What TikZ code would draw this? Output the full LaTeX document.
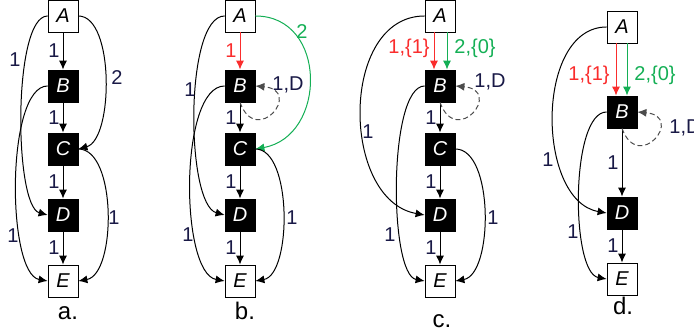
\documentclass[tikz,border=0pt]{standalone}
\usepackage{fontspec}
\setmainfont{Liberation Sans}
\usepackage{tikz}
\usepackage{xcolor}
\usetikzlibrary{
    arrows.meta,
    calc,
    positioning
}
\definecolor{lblcol}{RGB}{25,25,70}
\definecolor{redarc}{RGB}{250,45,45}
\definecolor{greenarc}{RGB}{20,175,85}
\tikzset{
    wbox/.style={draw, fill=white, minimum width=15pt, minimum height=16pt, inner sep=0pt, font=\fontsize{10}{12}\selectfont\itshape},
    bbox/.style={wbox, fill=black, text=white},
    lbl/.style={text=lblcol, font=\fontsize{10}{12}\selectfont, inner sep=1.5pt},
    panelname/.style={font=\fontsize{12}{14}\selectfont},
    arc/.style={-{Latex[length=4.5pt,width=4pt]}, line width=0.5pt},
    selfarc/.style={arc, dashed, dash pattern=on 2.5pt off 1.5pt, black!70, out=-70, in=-5, looseness=5.5}
}

\begin{document}
\begin{tikzpicture}[x=0.5pt, y=0.5pt]
                    \useasboundingbox (0, 0) rectangle (694, 330);

                    % a.
                    \node[wbox] (A1) at (63, 314) {A};
                    \node[bbox] (B1) at (63, 244) {B};
                    \node[bbox] (C1) at (63, 181) {C};
                    \node[bbox] (D1) at (63, 115) {D};
                    \node[wbox] (E1) at (63, 49) {E};
                    \node[panelname] (pa) at (68, 17) {a.};
                    \draw
                    (A1) edge[arc] node[lbl, left]{1} (B1)
                    (B1) edge[arc] node[lbl, left]{1} (C1)
                    (C1) edge[arc] node[lbl, left]{1} (D1)
                    (D1) edge[arc] node[lbl, left]{1} (E1)
                    (A1.west) edge[arc, out=180, in=165, looseness=0.45] (D1.west)
                    (B1.west) edge[arc, out=180, in=170, looseness=0.55] (E1.west)
                    (A1.east) edge[arc, out=0, in=15, looseness=0.7] (C1.east)
                    (C1.east) edge[arc, out=0, in=10, looseness=0.75] (E1.east);
                    \node[lbl] (la1) at (15, 270) {1};
                    \node[lbl] (la2) at (117, 252) {2};
                    \node[lbl] (la3) at (13, 94) {1};
                    \node[lbl] (la4) at (114, 112) {1};

                    % b.
                    \node[wbox] (A2) at (240, 314) {A};
                    \node[bbox] (B2) at (240, 244) {B};
                    \node[bbox] (C2) at (240, 181) {C};
                    \node[bbox] (D2) at (240, 115) {D};
                    \node[wbox] (E2) at (240, 49) {E};
                    \node[panelname] (pb) at (245, 19) {b.};
                    \draw
                    (A2) edge[arc, redarc] node[lbl, left, text=redarc]{1} (B2)
                    (B2) edge[arc] node[lbl, left]{1} (C2)
                    (C2) edge[arc] node[lbl, left]{1} (D2)
                    (D2) edge[arc] node[lbl, left]{1} (E2)
                    (A2.west) edge[arc, out=180, in=165, looseness=0.52] (D2.west)
                    (B2.west) edge[arc, out=180, in=170, looseness=0.6] (E2.west)
                    (A2.east) edge[arc, greenarc, out=0, in=10, looseness=1.4] (C2.east)
                    (C2.east) edge[arc, out=0, in=10, looseness=0.72] (E2.east)
                    (B2.south) edge[selfarc] (B2.east);
                    \node[lbl] (lb1) at (190, 240) {1};
                    \node[lbl, text=greenarc] (lb2) at (302, 298) {2};
                    \node[lbl] (lb3) at (188, 95) {1};
                    \node[lbl] (lb4) at (292, 112) {1};
                    \node[lbl] (lb5) at (288, 245) {1,D};

                    % c.
                    \node[wbox] (A3) at (440, 314) {A};
                    \node[bbox] (B3) at (440, 244) {B};
                    \node[bbox] (C3) at (440, 181) {C};
                    \node[bbox] (D3) at (440, 115) {D};
                    \node[wbox] (E3) at (440, 49) {E};
                    \node[panelname] (pc) at (442, 9) {c.};
                    \draw
                    ([xshift=-3pt]A3.south) edge[arc, redarc] ([xshift=-3pt]B3.north)
                    ([xshift=3.5pt]A3.south) edge[arc, greenarc] ([xshift=3.5pt]B3.north)
                    (B3) edge[arc] node[lbl, left]{1} (C3)
                    (C3) edge[arc] node[lbl, left]{1} (D3)
                    (D3) edge[arc] node[lbl, left]{1} (E3)
                    (A3.west) edge[arc, out=180, in=170, looseness=1.1] (D3.west)
                    (B3.west) edge[arc, out=180, in=170, looseness=0.48] (E3.west)
                    (C3.east) edge[arc, out=0, in=10, looseness=0.75] (E3.east)
                    (B3.south) edge[selfarc] (B3.east);
                    \node[lbl, text=redarc] (lc1) at (409, 282) {1,\{1\}};
                    \node[lbl, text=greenarc] (lc2) at (475, 282) {2,\{0\}};
                    \node[lbl] (lc3) at (368, 198) {1};
                    \node[lbl] (lc4) at (390, 95) {1};
                    \node[lbl] (lc5) at (493, 112) {1};
                    \node[lbl] (lc6) at (490, 248) {1,D};

                    % d.
                    \node[wbox] (A4) at (622, 303) {A};
                    \node[bbox] (B4) at (622, 218) {B};
                    \node[bbox] (D4) at (622, 117) {D};
                    \node[wbox] (E4) at (622, 51) {E};
                    \node[panelname] (pd) at (623, 24) {d.};
                    \draw
                    ([xshift=-3pt]A4.south) edge[arc, redarc] ([xshift=-3pt]B4.north)
                    ([xshift=2.5pt]A4.south) edge[arc, greenarc] ([xshift=2.5pt]B4.north)
                    (B4) edge[arc] node[lbl, left]{1} (D4)
                    (D4) edge[arc] node[lbl, left]{1} (E4)
                    (A4.west) edge[arc, out=180, in=170, looseness=0.99] (D4.west)
                    (B4.west) edge[arc, out=180, in=170, looseness=0.56] (E4.west)
                    (B4.south) edge[selfarc] (B4.east);
                    \node[lbl, text=redarc] (ld1) at (589, 255) {1,\{1\}};
                    \node[lbl, text=greenarc] (ld2) at (655, 255) {2,\{0\}};
                    \node[lbl] (ld3) at (548, 170) {1};
                    \node[lbl] (ld4) at (573, 98) {1};
                    \node[lbl, anchor=west] (ld5) at (666, 202) {1,D};
                \end{tikzpicture}
\end{document}
